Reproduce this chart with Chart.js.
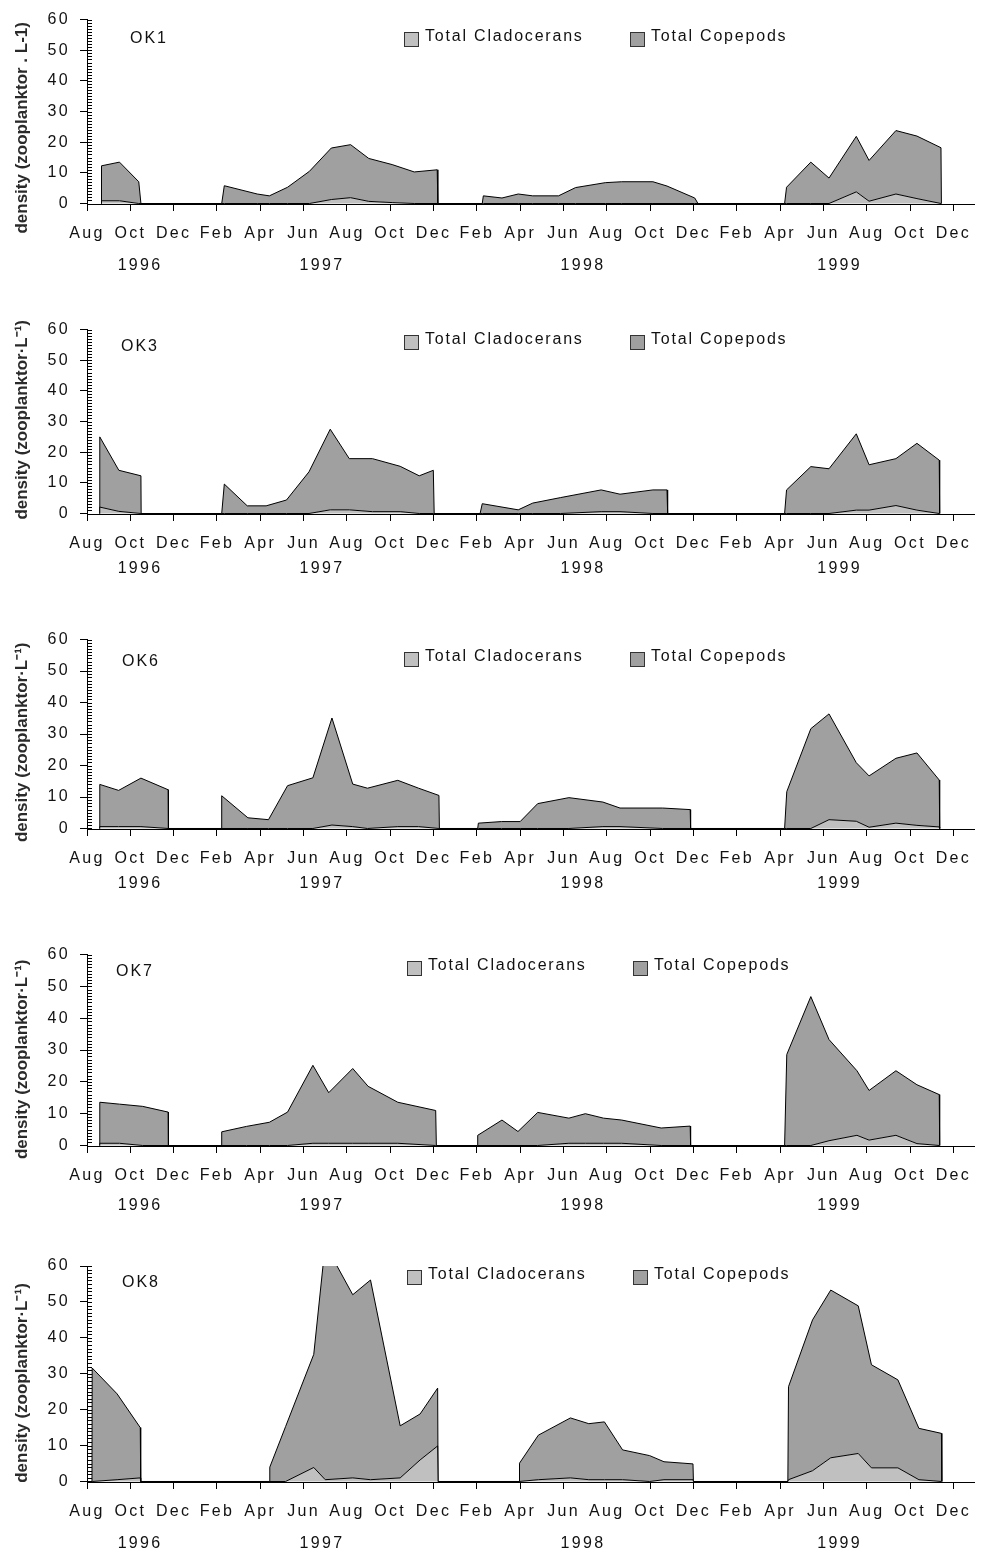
<!DOCTYPE html>
<html>
<head>
<meta charset="utf-8">
<script src="https://cdn.jsdelivr.net/npm/chart.js@4.4.1/dist/chart.umd.min.js"></script>
<style>
  html, body { margin: 0; padding: 0; background: #fff; width: 984px; height: 1556px; overflow: hidden; }
  canvas { position: absolute; left: 0; }
</style>
</head>
<body>
<canvas id="ok1" width="984" height="310" style="top:0px"></canvas>
<canvas id="ok3" width="984" height="310" style="top:310px"></canvas>
<canvas id="ok6" width="984" height="315" style="top:620px"></canvas>
<canvas id="ok7" width="984" height="310" style="top:935px"></canvas>
<canvas id="ok8" width="984" height="311" style="top:1245px"></canvas>
<script>
// ---------- DATA (x = months since Aug 1996, y = zooplankters per litre) ----------
const seriesNames = ['Total Cladocerans', 'Total Copepods'];
const monthTickLabels = ['Aug','Oct','Dec','Feb','Apr','Jun','Aug','Oct','Dec','Feb','Apr','Jun',
                         'Aug','Oct','Dec','Feb','Apr','Jun','Aug','Oct','Dec'];
const yearTickLabels = ['1996', '1997', '1998', '1999'];
const yearTickMonths = [2.45, 10.85, 22.9, 34.75];
const densityTicks = [0, 10, 20, 30, 40, 50, 60];

const ok1Months = [0.65,0.67,1.5,2.39,2.49,6.22,6.34,7.86,8.42,9.26,10.27,11.28,12.17,13.01,14.09,15.11,16.17,16.2,
                   18.25,18.3,19.16,19.91,20.58,21.77,22.56,23.93,24.69,26.13,26.78,28.06,28.21,
                   32.21,32.3,33.42,34.26,35.52,36.11,37.35,38.32,39.43,39.45];
const ok1Cladocerans = [0,0.9,0.9,0,0,0,0,0,0,0,0,1.3,1.9,0.7,0.3,0,0,0,
                        0,0,0,0,0,0,0,0,0,0,0,0,0,
                        0,0,0,0,3.8,0.75,3.1,1.6,0,0];
const ok1Copepods = [0,11.4,12.6,7.1,0,0,5.8,3.1,2.5,5.3,10.5,16.8,17.3,14.0,12.4,10.3,11.0,0,
                     0,2.5,1.8,3.1,2.5,2.5,5.2,6.8,7.1,7.1,5.7,1.8,0,
                     0,5.3,13.5,8.3,18.1,13.3,20.7,20.4,18.2,0];

const ok3Months = [0.58,0.59,1.47,2.49,2.5,6.22,6.34,7.4,8.27,9.21,10.25,11.23,12.11,13.18,14.46,15.34,15.99,16.03,
                   18.15,18.25,19.91,20.58,21.87,23.74,24.61,26.13,26.78,26.81,
                   32.21,32.3,33.42,34.26,35.52,36.11,37.35,38.32,39.35,39.37];
const ok3Cladocerans = [0,2.1,0.7,0,0,0,0,0,0,0,0,1.2,1.2,0.6,0.6,0,0,0,
                        0,0,0,0,0,0.6,0.6,0,0,0,
                        0,0,0,0,1.1,1.1,2.6,1.1,0,0];
const ok3Copepods = [0,22.9,13.4,12.3,0,0,9.6,2.5,2.5,4.4,13.6,26.3,16.7,17.3,14.8,12.3,14.1,0,
                     0,3.2,1.2,3.4,5.2,7.1,5.7,7.7,7.7,0,
                     0,7.7,15.3,14.6,24.9,14.8,15.3,21.8,17.4,0];

const ok6Months = [0.58,0.59,1.46,2.49,3.75,3.76,6.19,6.22,7.43,8.38,9.26,10.43,11.31,12.27,12.95,14.35,15.31,16.25,16.27,
                   18.04,18.07,19.14,20.0,20.81,22.25,23.82,24.61,26.58,27.85,27.87,
                   32.21,32.31,33.42,34.26,35.52,36.11,37.35,38.32,39.35,39.37];
const ok6Cladocerans = [0,0.6,0.6,0.6,0,0,0,0,0,0,0,0,1.1,0.6,0,0.6,0.6,0,0,
                        0,0,0,0,0,0,0.6,0.6,0,0,0,
                        0,0,0,2.8,2.3,0.4,1.7,1.0,0.5,0];
const ok6Copepods = [0,13.4,11.5,15.4,12.3,0,0,10.4,3.4,2.8,13.6,16.1,34.0,13.5,12.8,14.7,12.2,10.5,0,
                     0,1.7,2.2,2.2,7.9,9.8,7.8,5.9,6.5,6.0,0,
                     0,11.7,31.7,33.6,18.6,16.3,20.6,23.0,14.9,0];

const ok7Months = [0.58,0.59,1.5,2.57,3.75,3.76,6.19,6.22,7.36,8.42,9.26,10.43,11.16,12.27,12.98,14.35,16.1,16.13,
                   18.03,18.04,19.16,19.9,20.81,22.25,23.01,23.85,24.69,26.51,27.85,27.87,
                   32.21,32.31,33.42,34.26,35.55,36.11,37.35,38.32,39.35,39.37];
const ok7Cladocerans = [0,0.7,0.7,0,0,0,0,0,0,0,0,0.7,0.7,0.7,0.7,0.7,0,0,
                        0,0,0,0,0,0.7,0.7,0.7,0.7,0,0,0,
                        0,0,0,1.5,3.2,1.7,3.2,0.6,0,0];
const ok7Copepods = [0,12.9,12.3,12.3,10.5,0,0,4.3,6.0,7.3,10.5,24.5,15.9,23.5,17.9,12.9,11.0,0,
                     0,3.2,8.0,4.4,10.4,7.9,9.3,7.9,7.3,5.5,6.1,0,
                     0,28.6,46.8,31.8,20.3,15.6,20.3,18.5,16.0,0];

const ok8Months = [0.23,0.24,1.39,2.46,2.48,8.41,8.44,9.17,10.47,11.0,12.27,13.09,14.46,15.38,16.19,16.21,
                   19.95,19.97,20.84,22.32,23.17,23.89,24.73,25.98,26.64,27.98,28.0,
                   32.36,32.39,33.5,34.34,35.61,36.22,37.44,38.41,39.45,39.47];
const ok8Cladocerans = [0,0,0.5,1.0,0,0,0,0,3.9,0.5,1.0,0.5,1.0,6.0,9.9,0,
                        0,0,0.5,1.0,0.5,0.5,0.5,0,0.5,0.5,0,
                        0,0.5,3.0,6.6,7.8,3.8,3.8,0.5,0,0];
const ok8Copepods = [0,31.6,23.9,14.0,0,0,4.0,15.3,31.5,65.5,51.0,55.6,14.5,12.8,16.1,0,
                     0,5.1,12.4,16.7,15.6,16.1,8.3,7.2,5.0,4.4,0,
                     0,25.9,42.0,46.7,41.1,28.7,24.5,14.3,13.4,0];

// ---------- STYLE / LAYOUT ----------
const FONT = '"Liberation Sans", Arial, Helvetica, sans-serif';
const CLAD_COLOR = '#c0c0c0';
const COPE_COLOR = '#a0a0a0';
const TEXT_COLOR = '#111111';
const LS = '2.3px';
const titleA = 'density (zooplanktor . L-1)';
const titleB = 'density (zooplanktor\u00B7L\u207B\u00B9)';

const panels = [
  { id:'ok1', station:'OK1', months:ok1Months, clad:ok1Cladocerans, cope:ok1Copepods, top:18, bottomPad:36, yearPad:12.4, yMin:-0.16,
    legendX:[404,630], legendDy:19, stationX:130, stationDy:18.5, title:titleA, titleDy:16 },
  { id:'ok3', station:'OK3', months:ok3Months, clad:ok3Cladocerans, cope:ok3Copepods, top:17, bottomPad:36, yearPad:5.4, yMin:-0.16,
    legendX:[404,630], legendDy:12, stationX:121, stationDy:16.5, title:titleB, titleDy:-2 },
  { id:'ok6', station:'OK6', months:ok6Months, clad:ok6Cladocerans, cope:ok6Copepods, top:17, bottomPad:36, yearPad:5.4, yMin:-0.16,
    legendX:[404,630], legendDy:19.5, stationX:122, stationDy:21.5, title:titleB, titleDy:8 },
  { id:'ok7', station:'OK7', months:ok7Months, clad:ok7Cladocerans, cope:ok7Copepods, top:17, bottomPad:29, yearPad:10.4, yMin:-0.155,
    legendX:[407,633], legendDy:13, stationX:116, stationDy:17, title:titleB, titleDy:9 },
  { id:'ok8', station:'OK8', months:ok8Months, clad:ok8Cladocerans, cope:ok8Copepods, top:21, bottomPad:4, yearPad:12.4, yMin:-0.14,
    legendX:[407,633], legendDy:11, stationX:122, stationDy:16.5, title:titleB, titleDy:9 }
];

const decorPlugin = {
  id: 'decor',
  afterInit(c) { c.ctx.letterSpacing = LS; },
  beforeUpdate(c) { c.ctx.letterSpacing = LS; },
  beforeDraw(c) { c.ctx.letterSpacing = LS; },
  afterDraw(c, args, o) {
    const ctx = c.ctx, a = c.chartArea, y = c.scales.y;
    ctx.save();
    // minor ticks on the inner side of the value axis
    ctx.strokeStyle = '#000'; ctx.lineWidth = 1;
    ctx.beginPath();
    for (let v = 0; v <= y.max; v += 1) {
      const py = Math.round(y.getPixelForValue(v)) + 0.5;
      ctx.moveTo(a.left, py); ctx.lineTo(a.left + 5, py);
    }
    ctx.stroke();
    // legend
    ctx.font = '16px ' + FONT;
    ctx.letterSpacing = '1.8px';
    ctx.textBaseline = 'middle'; ctx.textAlign = 'left';
    c.data.datasets.forEach((ds, i) => {
      const bx = o.legendX[i], by = a.top + o.legendDy;
      ctx.fillStyle = ds.backgroundColor;
      ctx.fillRect(bx + 0.5, Math.round(by - 7) + 0.5, 14, 14);
      ctx.strokeStyle = '#333'; ctx.lineWidth = 1;
      ctx.strokeRect(bx + 0.5, Math.round(by - 7) + 0.5, 14, 14);
      ctx.fillStyle = TEXT_COLOR;
      ctx.fillText(ds.label, bx + 21, by - 2.5);
    });
    // station label
    ctx.letterSpacing = '2px';
    ctx.fillText(o.station, o.stationX, a.top + o.stationDy);
    // value-axis title
    ctx.letterSpacing = '0px';
    ctx.font = 'bold 17px ' + FONT;
    ctx.fillStyle = '#2a2a2a';
    ctx.translate(22, (a.top + a.bottom) / 2 + o.titleDy);
    ctx.rotate(-Math.PI / 2);
    ctx.textAlign = 'center';
    ctx.fillText(o.title, 0, 0);
    ctx.restore();
  }
};

const tickFont = { family: FONT, size: 16 };

panels.forEach(p => {
  new Chart(document.getElementById(p.id), {
    type: 'line',
    data: {
      datasets: [
        { label: seriesNames[0], data: p.months.map((m, i) => ({ x: m, y: p.clad[i] })),
          backgroundColor: CLAD_COLOR, borderColor: '#000', borderWidth: 1, fill: 'origin',
          pointRadius: 0, tension: 0 },
        { label: seriesNames[1], data: p.months.map((m, i) => ({ x: m, y: p.cope[i] })),
          backgroundColor: COPE_COLOR, borderColor: '#000', borderWidth: 1, fill: '-1',
          pointRadius: 0, tension: 0 }
      ]
    },
    options: {
      responsive: false, animation: false, devicePixelRatio: 1, events: [],
      layout: { padding: { left: 0, right: 0, top: p.top, bottom: p.bottomPad } },
      plugins: {
        legend: { display: false }, tooltip: { enabled: false },
        decor: { legendX: p.legendX, legendDy: p.legendDy, station: p.station, stationX: p.stationX,
                 stationDy: p.stationDy, title: p.title, titleDy: p.titleDy }
      },
      scales: {
        x: {
          type: 'linear', position: 'bottom', weight: 0, min: 0, max: 41, bounds: 'data',
          afterBuildTicks: s => { s.ticks = monthTickLabels.map((_, i) => ({ value: 2 * i })); },
          afterFit: s => { s.height = 40; },
          grid: { drawOnChartArea: false, drawTicks: true, tickLength: 7, color: '#000', lineWidth: 1 },
          border: { display: true, color: '#000', width: 1 },
          ticks: { autoSkip: false, maxRotation: 0, minRotation: 0, padding: 13, color: TEXT_COLOR, font: tickFont,
                   callback: (v, i) => monthTickLabels[i] }
        },
        years: {
          type: 'linear', axis: 'x', position: 'bottom', weight: 1, min: 0, max: 41, bounds: 'data',
          afterBuildTicks: s => { s.ticks = yearTickMonths.map(v => ({ value: v })); },
          afterFit: s => { s.height = 30; },
          grid: { display: false, drawTicks: false },
          border: { display: false },
          ticks: { autoSkip: false, maxRotation: 0, minRotation: 0, padding: p.yearPad, color: TEXT_COLOR, font: tickFont,
                   callback: (v, i) => yearTickLabels[i] }
        },
        y: {
          type: 'linear', stacked: true, min: p.yMin, max: 60, bounds: 'data',
          afterBuildTicks: s => { s.ticks = densityTicks.map(v => ({ value: v })); },
          afterFit: s => { s.width = 87; },
          grid: { drawOnChartArea: false, drawTicks: true, tickLength: 7, color: '#000', lineWidth: 1 },
          border: { display: true, color: '#000', width: 1 },
          ticks: { padding: 10, color: TEXT_COLOR, font: tickFont, callback: (v, i) => String(densityTicks[i]) }
        }
      }
    },
    plugins: [decorPlugin]
  });
});
</script>
</body>
</html>
